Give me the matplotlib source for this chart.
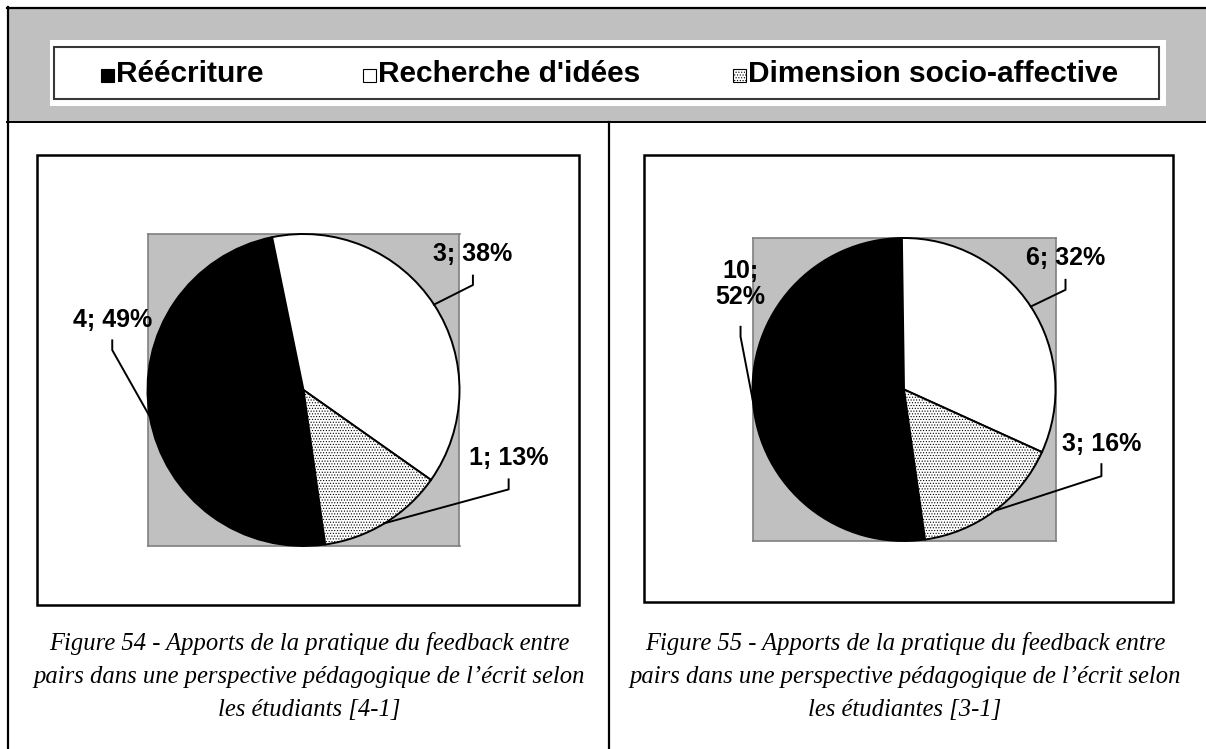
import math
import matplotlib
matplotlib.use("Agg")
import matplotlib.pyplot as plt
from matplotlib.patches import Rectangle
from matplotlib.lines import Line2D

# ---- data -------------------------------------------------------------
categories = ["Réécriture", "Recherche d'idées", "Dimension socio-affective"]
counts_54 = [4, 3, 1]
percent_54 = [49, 38, 13]
counts_55 = [10, 6, 3]
percent_55 = [52, 32, 16]
caption_54 = ["Figure 54 - Apports de la pratique du feedback entre",
              "pairs dans une perspective pédagogique de l\u2019écrit selon",
              "les étudiants [4-1]"]
caption_55 = ["Figure 55 - Apports de la pratique du feedback entre",
              "pairs dans une perspective pédagogique de l\u2019écrit selon",
              "les étudiantes [3-1]"]

# ---- style ------------------------------------------------------------
W, H, DPI = 1206, 749, 100
GREY = "#C0C0C0"
slice_colors = ["black", "white", "white"]
slice_hatch = [None, None, "......"]
plt.rcParams["hatch.linewidth"] = 0.5
plt.rcParams["hatch.color"] = "black"
SANS = "Liberation Sans"
SERIF = "Liberation Serif"

fig = plt.figure(figsize=(W / DPI, H / DPI), dpi=DPI)
fig.patch.set_facecolor("white")

# full-figure canvas in pixel units (y downward)
bg = fig.add_axes([0, 0, 1, 1], zorder=0)
bg.set_xlim(0, W)
bg.set_ylim(H, 0)
bg.axis("off")


def px_axes(x0, y0, x1, y1, **kw):
    return fig.add_axes([x0 / W, 1 - y1 / H, (x1 - x0) / W, (y1 - y0) / H], **kw)


# page frame: grey legend band, cell borders
bg.add_patch(Rectangle((8, 8), W - 8, 114, facecolor=GREY, edgecolor="none"))
bg.add_line(Line2D([7.5, 7.5], [7, H], color="black", lw=1.6))
bg.add_line(Line2D([7, W], [7.5, 7.5], color="black", lw=1.6))
bg.add_line(Line2D([7, W], [122, 122], color="black", lw=1.4))
bg.add_line(Line2D([609, 609], [122, H], color="black", lw=1.6))

# shared legend
bg.add_patch(Rectangle((50, 40), 1116, 66, facecolor="white", edgecolor="none"))
bg.add_patch(Rectangle((54, 47), 1105, 52, facecolor="white",
                       edgecolor="#383838", lw=1.5))
legend_x = [101, 363, 733]
for x, name, col, hatch in zip(legend_x, categories, slice_colors, slice_hatch):
    bg.add_patch(Rectangle((x, 69), 13, 13, facecolor=col, edgecolor="black",
                           lw=0.8, hatch=hatch))
    bg.text(x + 15, 82, name, fontfamily=SANS, fontweight="bold",
            fontsize=21.5, va="baseline", ha="left")

# label placement per slice (pie-radius units): text centre and leader tick
layout_54 = [dict(xy=(-1.226, 0.446), tick=(0.128, 0.19), wrap=False),
             dict(xy=(1.086, 0.873), tick=(0.14, 0.20), wrap=False),
             dict(xy=(1.315, -0.433), tick=(0.14, 0.204), wrap=False)]
layout_55 = [dict(xy=(-1.079, 0.697), tick=(0.283, 0.348), wrap=True),
             dict(xy=(1.066, 0.868), tick=(0.144, 0.21), wrap=False),
             dict(xy=(1.303, -0.362), tick=(0.131, 0.21), wrap=False)]

panels = [
    dict(box=(37, 155, 579, 605), plot=(147, 234, 460, 546),
         counts=counts_54, pct=percent_54, layout=layout_54,
         caption=caption_54, cx=309),
    dict(box=(644, 155, 1173, 602), plot=(752, 238, 1056, 541),
         counts=counts_55, pct=percent_55, layout=layout_55,
         caption=caption_55, cx=905),
]

for p in panels:
    x0, y0, x1, y1 = p["box"]
    bg.add_patch(Rectangle((x0, y0), x1 - x0, y1 - y0, facecolor="white",
                           edgecolor="black", lw=1.8))

    ax = px_axes(*p["plot"], zorder=2)
    wedges, _ = ax.pie(p["pct"], colors=slice_colors, startangle=-82,
                       counterclock=False, radius=1, frame=True,
                       wedgeprops=dict(edgecolor="black", linewidth=1.4))
    for w, h in zip(wedges, slice_hatch):
        w.set_clip_on(False)
        if h:
            w.set_hatch(h)
    ax.set_xlim(-1, 1)
    ax.set_ylim(-1, 1)
    ax.set_xticks([])
    ax.set_yticks([])
    ax.set_facecolor(GREY)
    for s in ax.spines.values():
        s.set_color("#808080")
        s.set_linewidth(1.2)
        s.set_zorder(0.5)

    for w, n, pc, lay in zip(wedges, p["counts"], p["pct"], p["layout"]):
        mid = math.radians((w.theta1 + w.theta2) / 2)
        ex, ey = math.cos(mid), math.sin(mid)
        lx, ly = lay["xy"]
        t0, t1 = lay["tick"]
        ax.add_line(Line2D([lx, lx, ex], [ly - t0, ly - t1, ey], color="black",
                           lw=1.4, clip_on=False))
        sep = "\n" if lay["wrap"] else " "
        ax.text(lx, ly, f"{n};{sep}{pc}%", fontfamily=SANS, fontweight="bold",
                fontsize=18, ha="center", va="center", clip_on=False,
                linespacing=1.1)

    for i, line in enumerate(p["caption"]):
        bg.text(p["cx"], 650 + 33 * i, line, fontfamily=SERIF, style="italic",
                fontsize=17.7, ha="center", va="baseline")

fig.savefig("out.png", dpi=DPI)
